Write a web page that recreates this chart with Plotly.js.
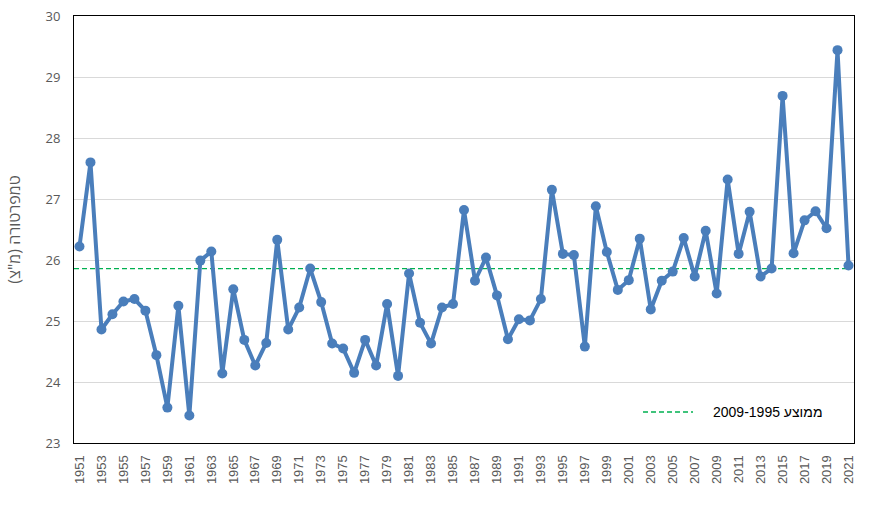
<!DOCTYPE html>
<html>
<head>
<meta charset="utf-8">
<script src="https://cdn.plot.ly/plotly-3.0.1.min.js"></script>
<style>html,body{margin:0;padding:0;background:#fff;}#chart{width:894px;height:512px;}</style>
</head>
<body>
<div id="chart"></div>
<script>
const years = [1951,1952,1953,1954,1955,1956,1957,1958,1959,1960,
  1961,1962,1963,1964,1965,1966,1967,1968,1969,1970,
  1971,1972,1973,1974,1975,1976,1977,1978,1979,1980,
  1981,1982,1983,1984,1985,1986,1987,1988,1989,1990,
  1991,1992,1993,1994,1995,1996,1997,1998,1999,2000,
  2001,2002,2003,2004,2005,2006,2007,2008,2009,2010,
  2011,2012,2013,2014,2015,2016,2017,2018,2019,2020,2021];
const temps = [26.22,27.60,24.86,25.11,25.32,25.36,25.17,24.44,23.58,25.25,
  23.45,25.99,26.14,24.14,25.52,24.69,24.27,24.64,26.33,24.86,
  25.22,25.86,25.31,24.63,24.55,24.15,24.69,24.27,25.28,24.10,
  25.78,24.97,24.63,25.22,25.28,26.82,25.66,26.04,25.42,24.70,
  25.03,25.01,25.36,27.15,26.10,26.08,24.58,26.88,26.13,25.51,
  25.67,26.35,25.19,25.66,25.81,26.36,25.73,26.48,25.45,27.32,
  26.10,26.79,25.73,25.86,28.69,26.11,26.65,26.80,26.52,29.44,25.91];
const avgValue = 25.86;
const avgSpan = [1950.5, 2021];
const avgLabel = "2009-1995 ממוצע";
const yTitle = "\u200Fטמפרטורה (מ\"צ)\u200F";
const xTickVals = years.filter(y => (y - 1951) % 2 === 0);
const yTickVals = [23,24,25,26,27,28,29,30];

const avgColor = '#00b050';
const avgDash = '5px,3px';

const traces = [
  {
    x: avgSpan, y: [avgValue, avgValue],
    type: 'scatter', mode: 'lines', name: avgLabel,
    line: {color: avgColor, width: 1.3, dash: avgDash},
    hoverinfo: 'skip', showlegend: false
  },
  {
    x: years, y: temps,
    type: 'scatter', mode: 'lines+markers', name: 'temp',
    line: {color: '#4a7ebb', width: 4},
    marker: {color: '#4a7ebb', size: 10},
    showlegend: false
  }
];

const layout = {
  width: 894, height: 512,
  margin: {l: 74, r: 40, t: 16, b: 69},
  paper_bgcolor: '#ffffff', plot_bgcolor: '#ffffff',
  font: {family: 'Liberation Sans, Arial, sans-serif', color: '#595959'},
  xaxis: {
    range: [1950.5, 2021.5],
    tickmode: 'array', tickvals: xTickVals, ticktext: xTickVals.map(String),
    tickangle: -90,
    tickfont: {family: 'Liberation Sans, Arial, sans-serif', size: 13, color: '#595959'},
    showgrid: false, zeroline: false,
    showline: true, linecolor: '#000000', linewidth: 1, mirror: true,
    ticks: 'outside', ticklen: 6, tickcolor: 'rgba(0,0,0,0)'
  },
  yaxis: {
    range: [23, 30],
    tickmode: 'array', tickvals: yTickVals, ticktext: yTickVals.map(String),
    tickfont: {family: 'Open Sans, sans-serif', size: 13, color: '#595959'},
    showgrid: true, gridcolor: '#d9d9d9', gridwidth: 1, zeroline: false,
    showline: true, linecolor: '#000000', linewidth: 1, mirror: true,
    ticks: 'outside', ticklen: 10, tickcolor: 'rgba(0,0,0,0)',
    title: {text: yTitle, font: {family: 'Open Sans, sans-serif', size: 16, color: '#595959'}, standoff: 20}
  },
  shapes: [
    {type: 'line', xref: 'paper', yref: 'paper', x0: 0.7295, x1: 0.7936, y0: 0.0726, y1: 0.0726,
     line: {color: avgColor, width: 1.3, dash: avgDash}}
  ],
  annotations: [
    {xref: 'paper', yref: 'paper', x: 0.8167, y: 0.0726, xanchor: 'left', yanchor: 'middle',
     text: avgLabel, showarrow: false,
     font: {family: 'Liberation Sans, Arial, sans-serif', size: 14, color: '#000000'}}
  ],
  showlegend: false
};

Plotly.newPlot('chart', traces, layout, {displayModeBar: false, staticPlot: true});
</script>
</body>
</html>
